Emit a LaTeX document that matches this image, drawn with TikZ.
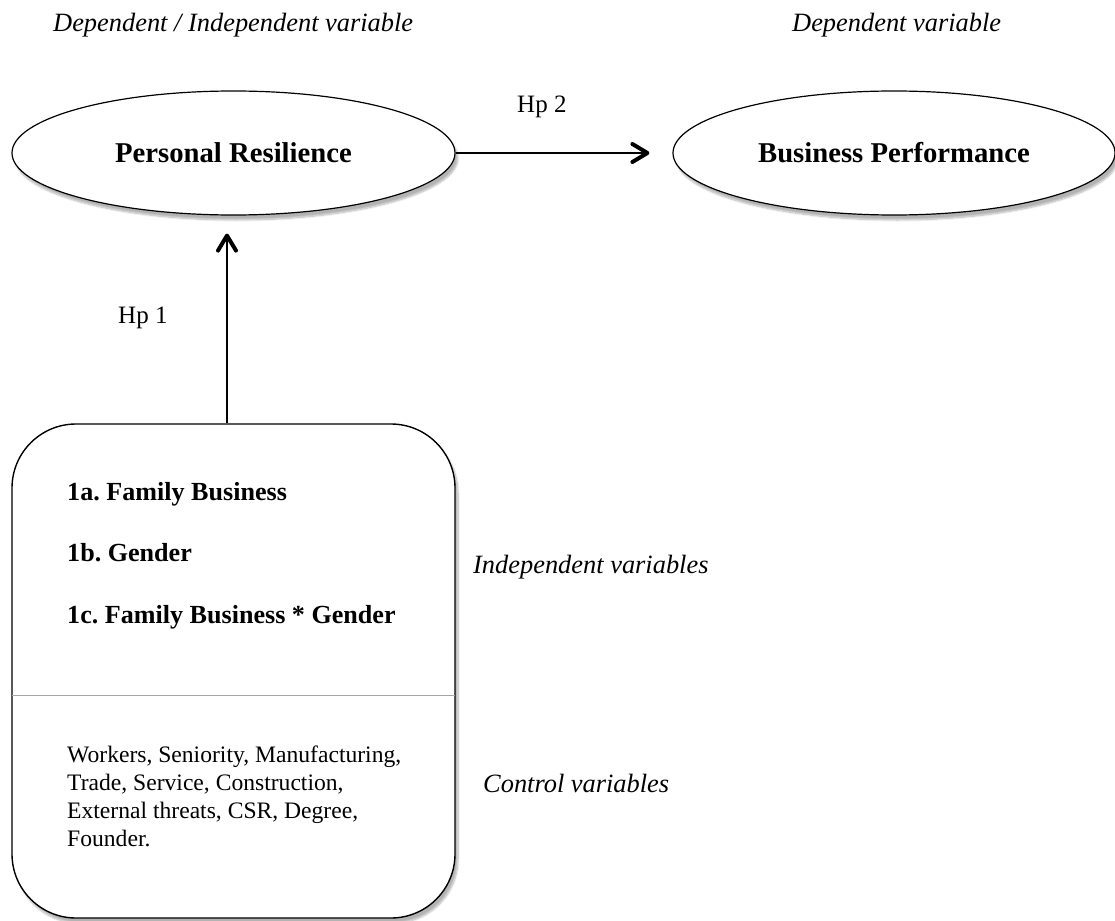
\documentclass[tikz,border=0pt]{standalone}
\usepackage{fontspec}
\setmainfont{Liberation Serif}
\usetikzlibrary{arrows.meta,shapes.geometric,shadows.blur}
\begin{document}
\begin{tikzpicture}[x=1pt,y=-1pt,
  soft/.style={blur shadow={shadow xshift=3pt,shadow yshift=-5pt,shadow blur steps=8,shadow opacity=30}},
  var/.style={ellipse,draw,line width=1.2pt,fill=white,minimum width=443pt,minimum height=124pt,
    inner sep=0pt,font=\fontsize{28.7}{34}\selectfont\bfseries,soft},
  block/.style={draw,line width=1.4pt,fill=white,rounded corners=64pt,minimum width=443pt,
    minimum height=494pt,inner sep=0pt,soft},
  lbl/.style={anchor=base west,inner sep=0pt,font=\fontsize{26.4}{32}\selectfont\itshape},
  hp/.style={anchor=base west,inner sep=0pt,font=\fontsize{25}{30}\selectfont},
  item/.style={anchor=base west,inner sep=0pt,font=\fontsize{26.1}{31}\selectfont\bfseries},
  ctrl/.style={anchor=base west,inner sep=0pt,font=\fontsize{23.6}{28.3}\selectfont},
  arr/.style={line width=1.3pt,-{Straight Barb[length=15pt,width=18pt,line width=4pt,round]}}]
\useasboundingbox (0,0) rectangle (1115,920);

% headings
\node[lbl] (h1) at (53,32) {Dependent / Independent variable};
\node[lbl] (h2) at (792,32) {Dependent variable};

% latent variables
\node[var] (pr) at (233.5,153) {Personal Resilience};
\node[var,minimum width=442pt] (bp) at (894,153) {Business Performance};

% predictors block
\node[block] (box) at (233.5,671) {};
\coordinate (divl) at (12,695);
\coordinate (divr) at (455,695);
\draw[line width=1pt,black!35] (divl) -- (divr);

\node[item] (i1) at (67,500) {1a.\ Family Business};
\node[item] (i2) at (67,561) {1b.\ Gender};
\node[item] (i3) at (67,623) {1c.\ Family Business * Gender};
\node[ctrl] (cv) at (67,762) {\parbox[t]{380pt}{\raggedright Workers, Seniority, Manufacturing,\\Trade, Service, Construction,\\External threats, CSR, Degree,\\Founder.}};

\node[lbl] (iv) at (473,573) {Independent variables};
\node[lbl] (cl) at (483,792) {Control variables};

% hypotheses
\draw[arr,shorten >=23pt] (pr.east) -- (bp.west);
\node[hp] (hp2) at (517,113) {Hp 2};
\draw[arr,shorten >=18pt] ([xshift=-6.5pt]box.north) -- ([xshift=-6.5pt]pr.south);
\node[hp] (hp1) at (118,323) {Hp 1};
\end{tikzpicture}
\end{document}
